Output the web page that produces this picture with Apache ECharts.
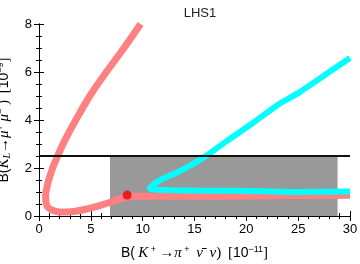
<!DOCTYPE html>
<html><head><meta charset="utf-8">
<script src="https://cdn.jsdelivr.net/npm/echarts@6/dist/echarts.min.js"></script>
<style>html,body{margin:0;padding:0;background:#fff}#c{width:360px;height:264px}</style>
</head><body><div id="c"></div>
<script>
const title = 'LHS1';
const xTicks = [0, 5, 10, 15, 20, 25, 30];
const yTicks = [0, 2, 4, 6, 8];
const pinkX = [9.8, 8.2, 6.5, 4.9, 3.55, 2.55, 1.8, 1.32, 0.87, 0.64, 0.7, 0.9, 1.3, 2.0, 2.7, 3.5, 4.5, 5.5, 6.5, 7.5, 8.5, 9.5, 11, 13, 15, 20, 25, 30];
const pinkY = [8.0, 7.0, 6.0, 5.0, 4.0, 3.2, 2.5, 2.0, 1.39, 0.83, 0.5, 0.35, 0.24, 0.17, 0.17, 0.2, 0.28, 0.39, 0.52, 0.67, 0.78, 0.82, 0.82, 0.82, 0.82, 0.83, 0.85, 0.86];
const cyanX = [30, 28, 25, 23.2, 20.35, 18.1, 16, 13.6, 11.7, 11.0, 10.7, 11.2, 12, 13, 15, 19.4, 25, 30];
const cyanY = [6.58, 6.0, 5.12, 4.68, 3.79, 3.12, 2.47, 1.87, 1.5, 1.3, 1.15, 1.1, 1.08, 1.07, 1.06, 1.05, 1.0, 1.02];
const smPoint = [8.5, 0.87];
const boxX = [6.85, 28.8];
const boxY = [0, 2.5];
const limitY = 2.5;

const pink = pinkX.map((x, i) => [x, pinkY[i]]);
const cyan = cyanX.map((x, i) => [x, cyanY[i]]);

const chart = echarts.init(document.getElementById('c'), null, {renderer: 'canvas'});
const serif = 'Liberation Serif';
const sans = 'Liberation Sans';
function axisCommon(show) {
  return {
    axisLine: {show: true, lineStyle: {color: '#000', width: 1}},
    axisTick: {show: true, inside: true, length: 5, lineStyle: {color: '#000'}},
    minorTick: {show: true, splitNumber: 5, length: 3, lineStyle: {color: '#000'}},
    splitLine: {show: false},
    axisLabel: {show: show, fontSize: 13, color: '#000', fontFamily: sans, margin: 7},
  };
}
const rich = {
  s: {fontFamily: sans, fontSize: 14, color: '#000', lineHeight: 16},
  r: {fontFamily: serif, fontSize: 15, color: '#000', lineHeight: 16},
  n: {fontFamily: sans, fontSize: 14, color: '#000', lineHeight: 16},
  i: {fontFamily: serif, fontSize: 15, fontStyle: 'italic', color: '#000', lineHeight: 16},
  sup: {fontFamily: sans, fontSize: 9, color: '#000', verticalAlign: 'top', lineHeight: 16},
  sub: {fontFamily: serif, fontSize: 10, fontStyle: 'italic', color: '#000', verticalAlign: 'bottom', lineHeight: 16}
};
const xa = axisCommon(true);
const ya = axisCommon(true);
ya.minorTick.splitNumber = 4;
const ya2 = axisCommon(false);
ya2.minorTick.splitNumber = 4;
chart.setOption({
  animation: false,
  title: {text: title, left: 195, textAlign: 'center', top: 2, textStyle: {fontFamily: sans, fontSize: 13, fontWeight: 'normal', color: '#222'}},
  grid: {left: 39, right: 10, top: 24, bottom: 48, containLabel: false, outerBoundsMode: 'none'},
  xAxis: [
    Object.assign({type: 'value', min: xTicks[0], max: xTicks[xTicks.length - 1], interval: 5, position: 'bottom',
      name: '{s|B(} {i|K}{sup| +} {r|→}{i|π}{sup| +}  {i|ν̄}  {i|ν}{r|)}  {r|[}{n|10}{sup|−11}{r|]}',
      nameLocation: 'middle', nameGap: 29, nameTextStyle: {rich: rich}}, xa),
    Object.assign({type: 'value', min: 0, max: 30, interval: 5, position: 'top'}, axisCommon(false))
  ],
  yAxis: [
    Object.assign({type: 'value', min: yTicks[0], max: yTicks[yTicks.length - 1], interval: 2, position: 'left',
      name: '{s|B(}{i|K}{sub|L}{r|→}{i|μ}{sup|+}{i| μ}{sup|−}{r| )}  {r|[}{n|10}{sup|−9}{r|]}',
      nameLocation: 'middle', nameGap: 27, nameRotate: 90, nameTextStyle: {rich: rich}}, ya),
    Object.assign({type: 'value', min: 0, max: 8, interval: 2, position: 'right'}, ya2)
  ],
  series: [
    {type: 'line', data: [], z: 1,
      markArea: {silent: true, itemStyle: {color: '#999999'}, data: [[{coord: [boxX[0], boxY[0]]}, {coord: [boxX[1], boxY[1]]}]]}},
    {type: 'line', data: pink, smooth: 0.3, showSymbol: false, z: 2, lineStyle: {color: '#ff8080', width: 7}, clip: true},
    {type: 'line', data: cyan, smooth: 0.25, showSymbol: false, z: 3, lineStyle: {color: '#00ffff', width: 6}, clip: true,
      markLine: {silent: true, symbol: 'none', label: {show: false}, lineStyle: {color: '#111', width: 2, type: 'solid'}, data: [{yAxis: limitY}]}},
    {type: 'scatter', data: [smPoint], symbolSize: 9, z: 5, itemStyle: {color: '#ee0000'}}
  ]
});
</script></body></html>
